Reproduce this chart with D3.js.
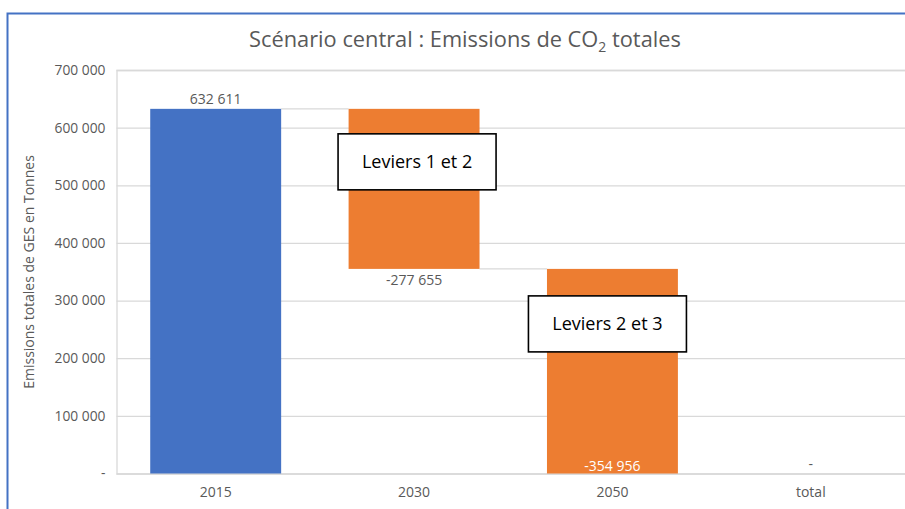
<!DOCTYPE html>
<html>
<head>
<meta charset="utf-8">
<script src="https://cdn.jsdelivr.net/npm/d3@7"></script>
<style>
  html, body { margin: 0; padding: 0; background: #fff; }
  svg { display: block; font-family: "Open Sans", Lato, sans-serif; }
</style>
</head>
<body>
<svg id="chart" width="905" height="509"></svg>
<script>
// Waterfall: 2015 emissions followed by the reductions from each set of levers
const categories = ["2015", "2030", "2050", "total"];
const changes = [632611, -277655, -354956, 0];
const barKinds = ["start", "step", "step", "total"];
const yTicks = [0, 100000, 200000, 300000, 400000, 500000, 600000, 700000];
const calloutCategories = ["2030", "2050"];
const calloutTexts = ["Leviers 1 et 2", "Leviers 2 et 3"];

const svg = d3.select("#chart");
const W = 905, H = 509;
const margin = { left: 116.5, right: -5, top: 70, bottom: 35.5 };

// Cumulative start/end per bar
let running = 0;
const bars = categories.map((c, i) => {
  const kind = barKinds[i];
  let y0, y1;
  if (kind === "start") { y0 = 0; y1 = changes[i]; running = changes[i]; }
  else if (kind === "total") { y0 = 0; y1 = running; }
  else { y0 = running; y1 = running + changes[i]; running = y1; }
  return { cat: c, kind, value: changes[i], y0, y1 };
});

const x = d3.scaleBand().domain(categories)
  .range([margin.left, W - margin.right]).paddingInner(0.34).paddingOuter(0.17);
const y = d3.scaleLinear().domain([0, 700000]).range([H - margin.bottom, margin.top]);

const fmt = v => v === 0 ? "-" : d3.format(",")(v).replace(/,/g, " ").replace("−", "-");

// Outer frame
svg.append("rect").attr("x", 7.5).attr("y", 13.5).attr("width", 920).attr("height", 520)
  .attr("fill", "none").attr("stroke", "#4472C4").attr("stroke-width", 2);

// Title
const title = svg.append("text").attr("x", 465).attr("y", 47).attr("text-anchor", "middle")
  .attr("fill", "#595959").attr("font-size", 21.8);
title.append("tspan").text("Scénario central : Emissions de CO");
title.append("tspan").attr("font-size", 14).attr("dy", 5).text("2");
title.append("tspan").attr("dy", -5).text(" totales");

// Grid lines
const yAxis = d3.axisLeft(y).tickValues(yTicks).tickSize(-(W - margin.right - margin.left))
  .tickFormat(v => v === 0 ? "-" : d3.format(",")(v).replace(/,/g, " "));
const gy = svg.append("g").attr("transform", `translate(${margin.left},0)`).call(yAxis);
gy.select(".domain").attr("stroke", "#d9d9d9").attr("stroke-width", 1.3);
gy.selectAll(".tick line").attr("stroke", "#d9d9d9").attr("stroke-width", 1.3);
gy.selectAll(".tick text").attr("x", -11).attr("fill", "#595959")
  .attr("font-size", 13.8).attr("font-family", "'Open Sans', sans-serif");

// Y-axis title
svg.append("text").attr("transform", "translate(34,272) rotate(-90)")
  .attr("text-anchor", "middle").attr("fill", "#595959").attr("font-size", 14)
  .text("Emissions totales de GES en Tonnes");

// X-axis labels
const xAxis = d3.axisBottom(x).tickSize(0).tickPadding(14);
const gx = svg.append("g").attr("transform", `translate(0,${y(0)})`).call(xAxis);
gx.select(".domain").remove();
gx.selectAll(".tick text").attr("fill", "#595959").attr("font-size", 14)
  .attr("font-family", "'Open Sans', sans-serif");

// Connector lines between consecutive bars
for (let i = 0; i < bars.length - 2; i++) {
  const level = bars[i].y1;
  svg.append("line")
    .attr("x1", x(bars[i].cat) + x.bandwidth()).attr("x2", x(bars[i + 1].cat))
    .attr("y1", y(level)).attr("y2", y(level))
    .attr("stroke", "#d9d9d9").attr("stroke-width", 1.3);
}

// Bars
svg.append("g").selectAll("rect").data(bars.filter(b => b.y0 !== b.y1)).join("rect")
  .attr("x", d => x(d.cat)).attr("width", x.bandwidth())
  .attr("y", d => y(Math.max(d.y0, d.y1)))
  .attr("height", d => Math.abs(y(d.y0) - y(d.y1)))
  .attr("fill", d => d.kind === "start" ? "#4472C4" : "#ED7D31");

// Value labels
bars.forEach(b => {
  const cx = x(b.cat) + x.bandwidth() / 2;
  let ty, fill = "#595959";
  if (b.kind === "start") ty = y(b.y1) - 5;
  else if (b.kind === "total") ty = y(0) - 5;
  else if (Math.min(b.y0, b.y1) > 20000) ty = y(Math.min(b.y0, b.y1)) + 16;
  else { ty = y(0) - 3; fill = "#ffffff"; }
  svg.append("text").attr("x", cx).attr("y", ty).attr("text-anchor", "middle")
    .attr("fill", fill).attr("font-size", 14).text(fmt(b.value));
});

// Callout boxes, placed over the upper part of each reduction bar
const calloutOffsets = [{ dx: 3, dy: 53 }, { dx: -5, dy: 55 }];
calloutCategories.forEach((cat, i) => {
  const b = bars.find(d => d.cat === cat);
  const cx = x(cat) + x.bandwidth() / 2 + calloutOffsets[i].dx;
  const cy = y(b.y0) + calloutOffsets[i].dy;
  const g = svg.append("g");
  g.append("rect").attr("x", cx - 79).attr("y", cy - 28).attr("width", 158).attr("height", 56)
    .attr("fill", "#fff").attr("stroke", "#000").attr("stroke-width", 1.6);
  g.append("text").attr("x", cx).attr("y", cy + 6).attr("text-anchor", "middle")
    .attr("fill", "#000").attr("font-size", 18).text(calloutTexts[i]);
});
</script>
</body>
</html>
